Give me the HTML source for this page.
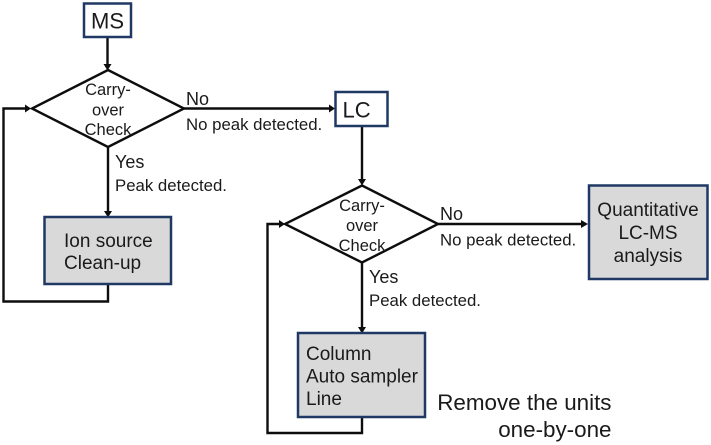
<!DOCTYPE html>
<html>
<head>
<meta charset="utf-8">
<style>
html,body{margin:0;padding:0;background:#fff;width:711px;height:445px;overflow:hidden}
svg{display:block}
text{font-family:"Liberation Sans",Arial,sans-serif;fill:#1a1a1a}
.l{fill:none;stroke:#0d0d0d;stroke-width:2.400}
.a{fill:#0d0d0d;stroke:none}
.b{stroke:#1f3864;stroke-width:2.500}
.s{font-size:16.800px}
.c{font-size:16.500px;text-anchor:middle}
.m{font-size:18px}
.t{font-size:19px}
.h{font-size:22px}
</style>
</head>
<body>
<svg width="711" height="445" viewBox="0 0 711 445" xmlns="http://www.w3.org/2000/svg">
<!-- connectors -->
<path class="l" d="M107.500 37V66"/>
<path class="a" d="M103.500 64h8l-4 6.500z"/>
<path class="l" d="M108 147V212"/>
<path class="a" d="M104 211h8l-4 6.500z"/>
<path class="l" d="M184 108.500H330"/>
<path class="a" d="M329 104.500v8l6 -4z"/>
<path class="l" d="M108 284V301.500H3.500V108.500H27"/>
<path class="a" d="M25 104.500v8l6 -4z"/>
<path class="l" d="M362 126V180"/>
<path class="a" d="M358 179h8l-4 6.500z"/>
<path class="l" d="M362 262V328"/>
<path class="a" d="M358 327h8l-4 6.500z"/>
<path class="l" d="M438 224H583"/>
<path class="a" d="M581 220v8l7 -4z"/>
<path class="l" d="M362 417V433H267.500V224H280"/>
<path class="a" d="M279 220v8l6 -4z"/>
<!-- diamonds -->
<path class="l" d="M108 70L184 108.500L108 147L32 108.500Z"/>
<path class="l" d="M362 185.500L438 224L362 262.500L285 224Z"/>
<!-- boxes -->
<rect class="b" x="84" y="3.500" width="47" height="33.500" fill="#fff"/>
<rect class="b" x="335.500" y="92" width="52" height="34" fill="#fff"/>
<rect class="b" x="44.500" y="217" width="126.500" height="67" fill="#d9d9d9"/>
<rect class="b" x="298" y="333" width="127" height="84" fill="#d9d9d9"/>
<rect class="b" x="589" y="185.500" width="118.500" height="93.500" fill="#d9d9d9"/>
<!-- text -->
<text class="h" x="91" y="28.500">MS</text>
<text class="h" x="342.500" y="117.500">LC</text>
<text class="c" x="108" y="95">Carry-</text>
<text class="c" x="108" y="115.500">over</text>
<text class="c" x="108" y="135">Check</text>
<text class="c" x="362" y="211">Carry-</text>
<text class="c" x="362" y="231">over</text>
<text class="c" x="362" y="251">Check</text>
<text class="m" x="186" y="105">No</text>
<text class="s" x="186" y="130">No peak detected.</text>
<text class="m" x="115" y="168">Yes</text>
<text class="s" x="115" y="191">Peak detected.</text>
<text class="m" x="440" y="220">No</text>
<text class="s" x="440" y="245.500">No peak detected.</text>
<text class="m" x="369" y="283">Yes</text>
<text class="s" x="369" y="306">Peak detected.</text>
<text class="t" x="64" y="247">Ion source</text>
<text class="t" x="64" y="269">Clean-up</text>
<text class="t" x="648" y="216" text-anchor="middle">Quantitative</text>
<text class="t" x="648" y="239" text-anchor="middle">LC-MS</text>
<text class="t" x="648" y="262" text-anchor="middle">analysis</text>
<text class="t" x="306" y="360">Column</text>
<text class="t" x="306" y="382.500">Auto sampler</text>
<text class="t" x="306" y="405">Line</text>
<text x="611.500" y="410" text-anchor="end" style="font-size:22.400px">Remove the units</text>
<text x="611.500" y="437" text-anchor="end" style="font-size:22.400px">one-by-one</text>
</svg>
</body>
</html>
